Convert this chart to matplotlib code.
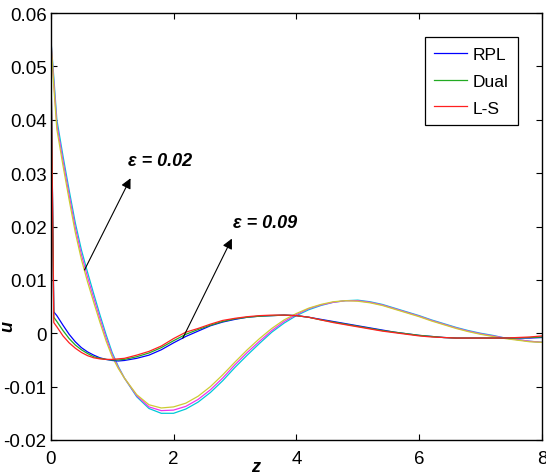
""" Velocity profiles u(z) for RPL, Dual and L-S solutions
at two values of epsilon.
"""

import matplotlib
matplotlib.use('Agg')
import matplotlib.pyplot as plt

# z grid of the computed profiles
z = [0, 0.05, 0.1, 0.2, 0.3, 0.4, 0.5, 0.6, 0.7, 0.8, 0.9, 1.0, 1.1, 1.2,
     1.4, 1.6, 1.8, 2.0, 2.2, 2.4, 2.6, 2.8, 3.0, 3.2, 3.4, 3.6, 3.8, 4.0,
     4.2, 4.4, 4.6, 4.8, 5.0, 5.2, 5.4, 5.6, 5.8, 6.0, 6.2, 6.4, 6.6, 6.8,
     7.0, 7.2, 7.4, 7.6, 7.8, 8.0]

# eps = 0.09
rpl_09 = [0.0555, 0.0040, 0.0033, 0.0015, -0.0002, -0.0016, -0.0027, -0.0035, -0.0041, -0.0046,
          -0.0049, -0.0051, -0.0052, -0.0051, -0.0047, -0.0041, -0.0031, -0.0018, -0.0006, 0.0004,
          0.0014, 0.0021, 0.0026, 0.0030, 0.0032, 0.0033, 0.0034, 0.0033, 0.0030, 0.0026,
          0.0022, 0.0018, 0.0014, 0.0010, 0.0006, 0.0002, -0.0001, -0.0004, -0.0006, -0.0008,
          -0.0009, -0.0009, -0.0009, -0.0009, -0.0009, -0.0009, -0.0009, -0.0008]
dual_09 = [0.0555, 0.0030, 0.0022, 0.0005, -0.0010, -0.0022, -0.0031, -0.0038, -0.0044, -0.0047,
           -0.0049, -0.0050, -0.0050, -0.0049, -0.0044, -0.0037, -0.0027, -0.0014, -0.0002, 0.0007,
           0.0015, 0.0022, 0.0027, 0.0030, 0.0032, 0.0033, 0.0034, 0.0033, 0.0030, 0.0025,
           0.0021, 0.0017, 0.0013, 0.0009, 0.0005, 0.0002, -0.0001, -0.0004, -0.0006, -0.0008,
           -0.0009, -0.0009, -0.0009, -0.0009, -0.0009, -0.0009, -0.0008, -0.0007]
ls_09 = [0.0555, 0.0020, 0.0012, -0.0005, -0.0018, -0.0028, -0.0036, -0.0042, -0.0046, -0.0048,
         -0.0049, -0.0049, -0.0048, -0.0047, -0.0041, -0.0034, -0.0024, -0.0010, 0.0002, 0.0009,
         0.0017, 0.0024, 0.0028, 0.0031, 0.0033, 0.0034, 0.0034, 0.0033, 0.0030, 0.0025,
         0.0020, 0.0016, 0.0012, 0.0008, 0.0004, 0.0001, -0.0002, -0.0005, -0.0007, -0.0008,
         -0.0009, -0.0009, -0.0009, -0.0009, -0.0009, -0.0008, -0.0007, -0.0005]

# eps = 0.02
rpl_02 = [0.0555, 0.0480, 0.0400, 0.0332, 0.0268, 0.0207, 0.0156, 0.0114, 0.0074, 0.0035,
          -0.0002, -0.0036, -0.0062, -0.0084, -0.0119, -0.0141, -0.0150, -0.0150, -0.0142, -0.0129,
          -0.0111, -0.0089, -0.0064, -0.0041, -0.0019, 0.0002, 0.0019, 0.0033, 0.0044, 0.0052,
          0.0058, 0.0061, 0.0062, 0.0059, 0.0054, 0.0047, 0.0040, 0.0033, 0.0025, 0.0018,
          0.0011, 0.0005, 0.0000, -0.0004, -0.0009, -0.0012, -0.0015, -0.0017]
dual_02 = [0.0555, 0.0471, 0.0391, 0.0323, 0.0259, 0.0198, 0.0147, 0.0105, 0.0066, 0.0028,
           -0.0008, -0.0040, -0.0064, -0.0084, -0.0117, -0.0138, -0.0145, -0.0144, -0.0137, -0.0124,
           -0.0106, -0.0084, -0.0059, -0.0036, -0.0015, 0.0005, 0.0022, 0.0035, 0.0046, 0.0053,
           0.0058, 0.0061, 0.0061, 0.0058, 0.0053, 0.0046, 0.0039, 0.0032, 0.0024, 0.0017,
           0.0010, 0.0004, -0.0001, -0.0005, -0.0009, -0.0012, -0.0015, -0.0017]
ls_02 = [0.0555, 0.0462, 0.0382, 0.0314, 0.0250, 0.0189, 0.0138, 0.0096, 0.0058, 0.0021,
         -0.0014, -0.0044, -0.0066, -0.0084, -0.0115, -0.0134, -0.0140, -0.0138, -0.0131, -0.0118,
         -0.0100, -0.0078, -0.0054, -0.0031, -0.0010, 0.0009, 0.0025, 0.0037, 0.0047, 0.0054,
         0.0059, 0.0061, 0.0060, 0.0057, 0.0052, 0.0045, 0.0038, 0.0031, 0.0023, 0.0016,
         0.0009, 0.0003, -0.0002, -0.0006, -0.0010, -0.0013, -0.0016, -0.0017]

labels = ['RPL', 'Dual', 'L-S']
xticks = [0, 2, 4, 6, 8]
yticks = [-0.02, -0.01, 0, 0.01, 0.02, 0.03, 0.04, 0.05, 0.06]
yticklabels = ['-0.02', '-0.01', '0', '0.01', '0.02', '0.03', '0.04', '0.05', '0.06']

plt.rcParams['font.family'] = ['Liberation Sans', 'DejaVu Sans']

fig = plt.figure(figsize=(5.46, 4.77), dpi=100)
ax = fig.add_axes([0.0929, 0.0755, 0.8998, 0.8951])

lw = 0.9
ax.plot(z, rpl_02, color='#00c8d8', lw=lw)
ax.plot(z, dual_02, color='#ee33ee', lw=lw)
ax.plot(z, ls_02, color='#cccc33', lw=lw)
ax.plot(z, rpl_09, color='#0000ff', lw=lw, label=labels[0])
ax.plot(z, dual_09, color='#22aa22', lw=lw, label=labels[1])
ax.plot(z, ls_09, color='#ff2020', lw=lw, label=labels[2])

ax.set_xlim(0, 8)
ax.set_ylim(-0.02, 0.06)
ax.set_xticks(xticks)
ax.set_xticklabels([str(t) for t in xticks])
ax.set_yticks(yticks)
ax.set_yticklabels(yticklabels)
ax.tick_params(direction='in', length=4, width=0.8, top=True, right=True, labelsize=13.5)
ax.tick_params(axis='x', pad=7)
ax.tick_params(axis='y', pad=3)
for s in ax.spines.values():
    s.set_linewidth(1.0)

ax.set_xlabel('z', fontsize=13, fontweight='bold', fontstyle='italic')
ax.set_ylabel('u', fontsize=13, fontweight='bold', fontstyle='italic')
ax.xaxis.set_label_coords(0.418, -0.043)
ax.yaxis.set_label_coords(-0.071, 0.267)

leg = ax.legend(loc='upper right', bbox_to_anchor=(0.951, 0.944), borderaxespad=0,
                fontsize=12.5, fancybox=False, framealpha=1, edgecolor='black',
                handlelength=1.9, labelspacing=0.68, borderpad=0.55, handletextpad=0.3)
leg.get_frame().set_linewidth(0.9)

# epsilon annotations
arrow = dict(arrowstyle='-|>', color='black', lw=0.8, mutation_scale=15)
eps_font = dict(family=['Liberation Sans Narrow', 'Liberation Sans', 'DejaVu Sans'],
                size=13, weight='bold', style='italic')
ax.annotate('', xy=(1.32, 0.0295), xytext=(0.53, 0.0114), arrowprops=arrow)
ax.text(1.26, 0.0323, '\u03b5 = 0.02', fontdict=eps_font, ha='left', va='center')
ax.annotate('', xy=(2.97, 0.0182), xytext=(2.13, -0.0014), arrowprops=arrow)
ax.text(2.97, 0.0208, '\u03b5 = 0.09', fontdict=eps_font, ha='left', va='center')

fig.savefig('out.png', dpi=100)
